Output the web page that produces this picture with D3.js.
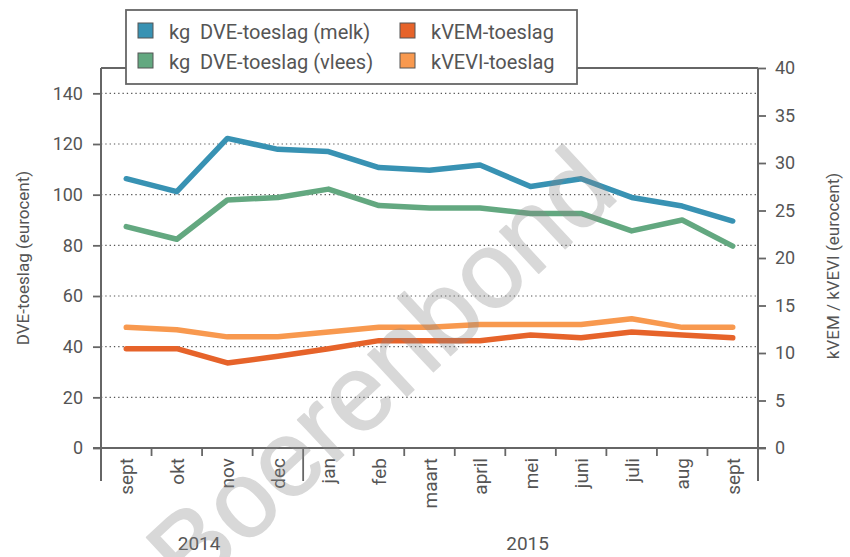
<!DOCTYPE html>
<html><head><meta charset="utf-8">
<script src="https://cdn.jsdelivr.net/npm/d3@7"></script>
<style>
body{margin:0;background:#fff;}
text{font-family:Roboto,"DejaVu Sans Condensed",sans-serif;fill:#555;}
</style></head>
<body>
<svg id="c" width="850" height="557"></svg>
<script>
const months = ["sept","okt","nov","dec","jan","feb","maart","april","mei","juni","juli","aug","sept"];
const years = [{label:"2014", from:0, to:3},{label:"2015", from:4, to:12}];
const dveMelk  = [106.3,101.2,122.2,117.9,117.0,110.7,109.6,111.7,103.2,106.3,98.9,95.5,89.6];
const dveVlees = [87.4,82.4,97.9,98.9,102.2,95.7,94.7,94.7,92.6,92.6,85.7,90.0,79.7];
const kvem     = [10.45,10.45,8.95,9.65,10.45,11.3,11.3,11.3,11.9,11.6,12.2,11.9,11.6];
const kvevi    = [12.7,12.45,11.7,11.7,12.2,12.7,12.7,13.0,13.0,13.0,13.6,12.7,12.7];
const leftTicks = [0,20,40,60,80,100,120,140];
const rightTicks = [0,5,10,15,20,25,30,35,40];
const seriesNames = ["kg  DVE-toeslag (melk)","kg  DVE-toeslag (vlees)","kVEM-toeslag","kVEVI-toeslag"];
const colors = ["#3892b3","#63a880","#e6632a","#f8994f"];

const svg = d3.select("#c");
const L=101, R=758, T=68, B=448;
const idx = months.map((m,i)=>i);
const x = d3.scaleBand().domain(idx).range([L,R]);
const yL = d3.scaleLinear().domain([0,150]).range([B,T]);
const yR = d3.scaleLinear().domain([0,40]).range([B,T]);
const axisCol = "#666";

// gridlines
svg.append("g").selectAll("line").data(leftTicks.filter(d=>d>0)).join("line")
  .attr("x1",L).attr("x2",R).attr("y1",d=>yL(d)).attr("y2",d=>yL(d))
  .attr("stroke","#555").attr("stroke-width",1.2).attr("stroke-dasharray","1.3,3");

// left axis
const gL = svg.append("g").attr("transform",`translate(${L},0)`)
  .call(d3.axisLeft(yL).tickValues(leftTicks).tickSize(8).tickPadding(10));
gL.select(".domain").remove();
gL.selectAll("line").attr("stroke",axisCol).attr("stroke-width",1.8);
gL.selectAll("text").attr("font-size",18).attr("fill","#555").style("font-family","Roboto");

// right axis
const gR = svg.append("g").attr("transform",`translate(${R},0)`)
  .call(d3.axisRight(yR).tickValues(rightTicks).tickSize(8).tickPadding(9));
gR.select(".domain").remove();
gR.selectAll("line").attr("stroke",axisCol).attr("stroke-width",1.8);
gR.selectAll("text").attr("font-size",18).attr("fill","#555").style("font-family","Roboto");

// frame lines
svg.append("line").attr("x1",L).attr("x2",L).attr("y1",T).attr("y2",481).attr("stroke",axisCol).attr("stroke-width",2);
svg.append("line").attr("x1",R).attr("x2",R).attr("y1",T).attr("y2",481).attr("stroke",axisCol).attr("stroke-width",2);
svg.append("line").attr("x1",L).attr("x2",R).attr("y1",T).attr("y2",T).attr("stroke",axisCol).attr("stroke-width",2);

// bottom axis
const gB = svg.append("g").attr("transform",`translate(0,${B})`);
gB.append("line").attr("x1",L-8).attr("x2",R+8).attr("stroke",axisCol).attr("stroke-width",2);
gB.selectAll("line.tk").data(idx.slice(1)).join("line").attr("class","tk")
  .attr("x1",d=>x(d)).attr("x2",d=>x(d)).attr("y1",0).attr("y2",d=>d===4?33:8)
  .attr("stroke",axisCol).attr("stroke-width",1.8);
gB.selectAll("text.m").data(idx).join("text").attr("class","m")
  .attr("transform",d=>`translate(${x(d)+x.bandwidth()/2+7},10) rotate(-90)`)
  .attr("text-anchor","end").attr("font-size",19).text(d=>months[d]);
svg.selectAll("text.yr").data(years).join("text").attr("class","yr")
  .attr("x",d=>(x(d.from)+x(d.to)+x.bandwidth())/2 - 3).attr("y",550)
  .attr("text-anchor","middle").attr("font-size",19).text(d=>d.label);

// axis titles
svg.append("text").attr("transform",`translate(29,${(T+B)/2}) rotate(-90)`)
  .attr("text-anchor","middle").attr("font-size",17).text("DVE-toeslag (eurocent)");
svg.append("text").attr("transform",`translate(839,${(T+B)/2+8}) rotate(-90)`)
  .attr("text-anchor","middle").attr("font-size",17).text("kVEM / kVEVI (eurocent)");

// lines
const cx = i => x(i)+x.bandwidth()/2;
const mk = (data, ys) => d3.line().x((d,i)=>cx(i)).y(d=>ys(d))(data);
const series = [[dveMelk,yL],[dveVlees,yL],[kvem,yR],[kvevi,yR]];
series.forEach(([data,ys],k)=>{
  svg.append("path").attr("d",mk(data,ys)).attr("fill","none")
    .attr("stroke",colors[k]).attr("stroke-width",5.5)
    .attr("stroke-linejoin","round").attr("stroke-linecap","round");
});

// legend
const lg = svg.append("g");
lg.append("rect").attr("x",126).attr("y",10).attr("width",451).attr("height",74)
  .attr("fill","#fff").attr("stroke",axisCol).attr("stroke-width",1.8);
const lpos = [[138,23],[138,53],[400,23],[400,53]];
seriesNames.forEach((n,k)=>{
  lg.append("rect").attr("x",lpos[k][0]).attr("y",lpos[k][1]).attr("width",15).attr("height",15)
    .attr("fill",colors[k]).attr("stroke","#555").attr("stroke-width",1);
  lg.append("text").attr("x",lpos[k][0]+31).attr("y",lpos[k][1]+16).attr("font-size",20)
    .attr("xml:space","preserve").style("white-space","pre").text(n);
});

// watermark
svg.append("text").attr("transform","translate(406,397) rotate(-43)")
  .attr("text-anchor","middle")
  .style("font-family","'Liberation Sans',Arial,sans-serif").attr("font-size",108)
  .style("fill","#888").style("stroke","#888").style("stroke-width",1.5)
  .style("stroke-linejoin","round").style("opacity",0.32).text("Boerenbond");
</script>
</body></html>
